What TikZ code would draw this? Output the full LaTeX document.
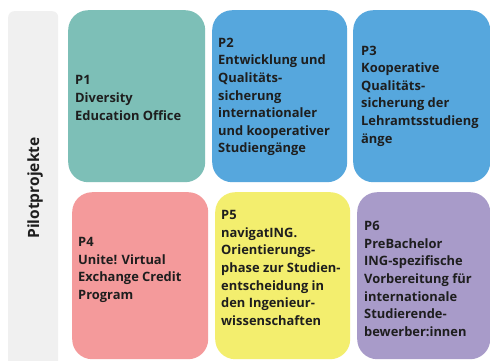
\documentclass[tikz,border=0pt]{standalone}
\usepackage{fontspec}
\setmainfont{Open Sans}
\definecolor{cgray}{HTML}{F0F0F0}
\definecolor{cteal}{HTML}{7DBFB7}
\definecolor{cblue}{HTML}{56A7DD}
\definecolor{cpink}{HTML}{F49A9B}
\definecolor{cyellow}{HTML}{F3EE6E}
\definecolor{cpurple}{HTML}{A89BC9}
\definecolor{ctext}{HTML}{1E1E1E}
\tikzset{
  pbox/.style={rectangle, rounded corners=20pt, draw=none, inner sep=0pt, anchor=north west},
  ptext/.style={anchor=west, align=left, inner sep=0pt, text=ctext,
    font=\fontsize{12.9}{17.6}\selectfont\bfseries},
}
\begin{document}
\begin{tikzpicture}[x=1pt,y=-1pt]
\useasboundingbox (0,0) rectangle (490,360);
\clip (0,0) rectangle (490,360);
\fill[white] (0,0) rectangle (490,360);
% strip
\node[pbox, rounded corners=6pt, fill=cgray, minimum width=50pt, minimum height=360pt] (strip) at (8,11) {};
\node[rotate=90, inner sep=0pt, text=ctext, font=\fontsize{15.5}{18}\selectfont\bfseries] (lbl) at (35,188) {Pilotprojekte};
% boxes
\node[pbox, fill=cteal, minimum width=137pt, minimum height=172pt] (p1) at (68,10) {};
\node[pbox, fill=cblue, minimum width=135pt, minimum height=172pt] (p2) at (212,10) {};
\node[pbox, fill=cblue, minimum width=137pt, minimum height=172pt] (p3) at (353,10) {};
\node[pbox, fill=cpink, minimum width=136pt, minimum height=167pt] (p4) at (72,192) {};
\node[pbox, fill=cyellow, minimum width=135pt, minimum height=167pt] (p5) at (215,192) {};
\node[pbox, fill=cpurple, minimum width=133pt, minimum height=167pt] (p6) at (357,192) {};
% texts
\node[ptext] (t1) at (75,98) {P1\\Diversity\\Education Office};
\node[ptext] (t2) at (218,97) {P2\\Entwicklung und\\Qualitäts-\\sicherung\\internationaler\\und kooperativer\\Studiengänge};
\node[ptext] (t3) at (361,96) {P3\\Kooperative\\Qualitäts-\\sicherung der\\Lehramtsstudieng\\änge};
\node[ptext] (t4) at (78,270) {P4\\Unite! Virtual\\Exchange Credit\\Program};
\node[ptext] (t5) at (221,268) {P5\\navigatING.\\Orientierungs-\\phase zur Studien-\\entscheidung in\\den Ingenieur-\\wissenschaften};
\node[ptext] (t6) at (364,279) {P6\\PreBachelor\\ING-spezifische\\Vorbereitung für\\internationale\\Studierende-\\bewerber:innen};
\end{tikzpicture}
\end{document}
